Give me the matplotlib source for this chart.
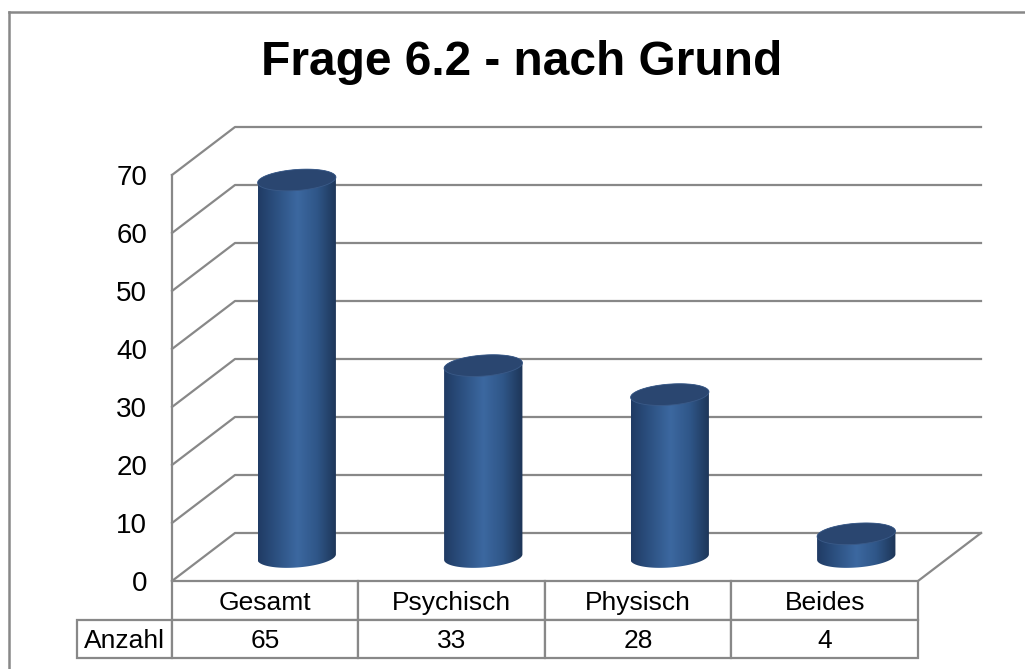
import numpy as np
import matplotlib
matplotlib.use('Agg')
import matplotlib.pyplot as plt
import matplotlib.transforms as mtrans
from matplotlib.path import Path
from matplotlib.patches import PathPatch, Polygon
from matplotlib.lines import Line2D
from matplotlib.colors import LinearSegmentedColormap

plt.rcParams['font.family'] = ['Liberation Sans', 'DejaVu Sans']

# data
title = 'Frage 6.2 - nach Grund'
categories = ['Gesamt', 'Psychisch', 'Physisch', 'Beides']
anzahl = [65, 33, 28, 4]
row_label = 'Anzahl'
yticks = [0, 10, 20, 30, 40, 50, 60, 70]

GRID = '#888888'
TOPCOL = '#2a4670'
cyl_cmap = LinearSegmentedColormap.from_list(
    'cyl', ['#203b64', '#2d5283', '#3c68a0', '#2f5688', '#1d3557'])

W, H = 1025, 669
fig = plt.figure(figsize=(W / 100, H / 100), dpi=100)
ax = fig.add_axes([172 / W, (H - 581) / H, (918 - 172) / W, (581 - 175) / H])
n = len(categories)
xl, xr = -0.5, n - 0.5
ax.set_xlim(xl, xr)
ax.set_ylim(yticks[0], yticks[-1])
for s in ax.spines.values():
    s.set_visible(False)
ax.patch.set_visible(False)
ax.set_xticks([])
ax.set_yticks(yticks)
ax.tick_params(axis='y', length=0, pad=18, labelsize=20)

# 3D depth offsets (back wall and middle of the floor)
back = ax.transData + mtrans.ScaledTranslation(0.63, 0.48, fig.dpi_scale_trans)
mid = ax.transData + mtrans.ScaledTranslation(0.315, 0.24, fig.dpi_scale_trans)
ident = mtrans.IdentityTransform()

def line_disp(pts, **kw):
    xs, ys = zip(*pts)
    ax.add_line(Line2D(xs, ys, transform=ident, clip_on=False, **kw))

# gridlines on left wall and back wall
for v in yticks:
    line_disp([ax.transData.transform((xl, v)), back.transform((xl, v)),
               back.transform((xr, v))], color=GRID, lw=1.6, zorder=1)
# left front edge, floor right edge
line_disp([ax.transData.transform((xl, yticks[0])),
           ax.transData.transform((xl, yticks[-1]))], color=GRID, lw=1.6, zorder=1)
line_disp([ax.transData.transform((xr, 0)), back.transform((xr, 0))],
          color=GRID, lw=1.6, zorder=1)

# cylinders
BAR_W = 0.42
b = 10.5
slope = 0.07
for i, v in enumerate(anzahl):
    cx, yb = mid.transform((i, 0))
    _, yt = mid.transform((i, v))
    a = cx - mid.transform((i - BAR_W / 2, 0))[0]
    t1 = np.linspace(np.pi, 2 * np.pi, 80)
    t2 = np.linspace(0, np.pi, 80)
    low = np.column_stack([cx + a * np.cos(t1), yb + b * np.sin(t1) + slope * a * np.cos(t1)])
    up = np.column_stack([cx + a * np.cos(t2), yt + b * np.sin(t2) + slope * a * np.cos(t2)])
    verts = np.vstack([low, up, low[:1]])
    body = PathPatch(Path(verts, closed=True), transform=ident, facecolor='none',
                     edgecolor='none', zorder=3, clip_on=False)
    ax.add_patch(body)
    grad = np.linspace(0, 1, 256)[None, :]
    im = ax.imshow(grad, cmap=cyl_cmap, aspect='auto', interpolation='bilinear',
                   extent=[cx - a, cx + a, yb - b - a * slope - 3, yt + b + a * slope + 3],
                   transform=ident, zorder=3)
    im.set_clip_box(fig.bbox)
    im.set_clip_path(body)
    tt = np.linspace(0, 2 * np.pi, 160)
    topv = np.column_stack([cx + a * np.cos(tt), yt + b * np.sin(tt) + slope * a * np.cos(tt)])
    ax.add_patch(Polygon(topv, closed=True, transform=ident, facecolor=TOPCOL,
                         edgecolor='#3a5a88', lw=0.6, zorder=4, clip_on=False))

ax.set_xlim(xl, xr)
ax.set_ylim(yticks[0], yticks[-1])

# data table (first header cell hidden)
rlw = 95 / 746
tab = ax.table(cellText=[[''] + categories, [row_label] + [str(v) for v in anzahl]],
               colWidths=[rlw] + [1 / n] * n, cellLoc='center',
               bbox=[-rlw, -77 / 406, 1 + rlw, 77 / 406])
tab.auto_set_font_size(False)
tab.set_fontsize(19)
for key, cell in tab.get_celld().items():
    cell.set_edgecolor(GRID)
    cell.set_linewidth(1.6)
    cell.get_text().set_va('center_baseline')
tab[0, 0].set_visible(False)

# title and outer frame
fig.text(522 / W, 1 - 75 / H, title, ha='center', va='baseline',
         fontsize=34.5, fontweight='bold')
fig.add_artist(Line2D([9 / W, 1], [1 - 12 / H] * 2, transform=fig.transFigure,
                      color='#888888', lw=1.8))
fig.add_artist(Line2D([9 / W] * 2, [0, 1 - 12 / H], transform=fig.transFigure,
                      color='#888888', lw=1.8))

fig.savefig('out.png', dpi=100)
